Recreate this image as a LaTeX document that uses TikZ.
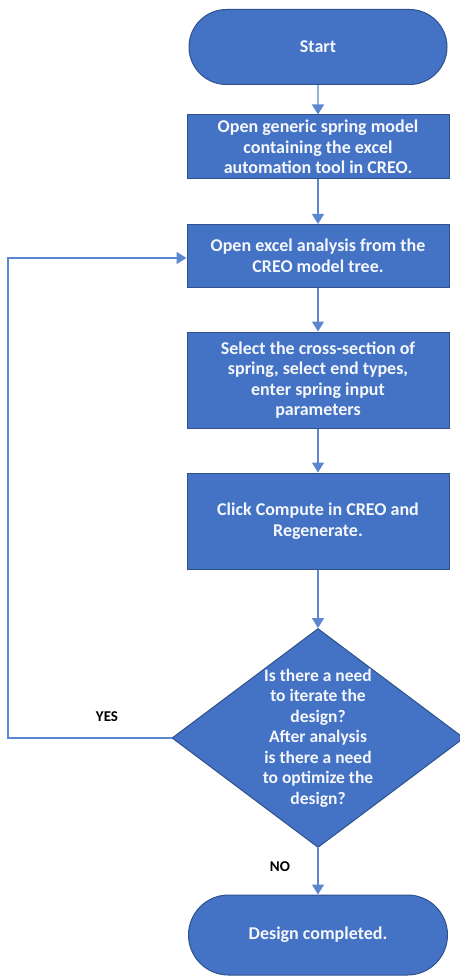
\documentclass[tikz,border=0pt]{standalone}
\usepackage{fontspec}
\setmainfont{Carlito}
\usetikzlibrary{shapes.geometric,shapes.misc,arrows.meta}
\definecolor{boxblue}{HTML}{4472C4}
\definecolor{edgeblue}{HTML}{2F528F}
\definecolor{lineblue}{HTML}{5B87D0}
\begin{document}
\begin{tikzpicture}[x=1pt,y=-1pt,
  every node/.style={font=\fontsize{18}{20.5}\selectfont\bfseries, text=white!94!boxblue, align=center},
  procbox/.style={draw=edgeblue, line width=1pt, fill=boxblue, minimum width=262pt, inner sep=2pt},
  termbox/.style={procbox, rounded rectangle},
  flow/.style={draw=lineblue, line width=1.4pt, -{Triangle[width=12pt,length=10pt]}},
  lbl/.style={text=black, font=\fontsize{15}{18}\selectfont\bfseries}
]
\useasboundingbox (0,0) rectangle (459,976);
\node[termbox, minimum height=75pt] (start) at (318,47) {Start};
\node[procbox, minimum height=64pt] (b1) at (318,147) {Open generic spring model\\containing the excel\\automation tool in CREO.};
\node[procbox, minimum height=63pt] (b2) at (318,256) {Open excel analysis from the\\CREO model tree.};
\node[procbox, minimum height=96pt] (b3) at (318,380) {Select the cross-section of\\spring, select end types,\\enter spring input\\parameters};
\node[procbox, minimum height=96pt] (b4) at (318,521) {Click Compute in CREO and\\Regenerate.};
\node[diamond, draw=edgeblue, line width=1pt, fill=boxblue, minimum width=292pt, minimum height=219pt, inner sep=0pt] (dia) at (318,738) {};
\node[font=\fontsize{17.5}{20.5}\selectfont\bfseries] (diatext) at (318,738) {Is there a need\\to iterate the\\design?\\After analysis\\is there a need\\to optimize the\\design?};
\node[termbox, minimum height=80pt, minimum width=263pt] (end) at (318,935) {Design completed.};
\coordinate (lb) at (8,738);
\coordinate (lt) at (8,258);
\node[lbl] (yes) at (107,717) {YES};
\node[lbl] (no) at (280,867) {NO};
\draw[flow] (start) -- (b1);
\draw[flow] (b1) -- (b2);
\draw[flow] (b2) -- (b3);
\draw[flow] (b3) -- (b4);
\draw[flow] (b4) -- (dia.north);
\draw[flow] (dia.south) -- (end);
\draw[flow] (dia.west) -- (lb) -- (lt) -- (lt -| b2.west);
\end{tikzpicture}
\end{document}
